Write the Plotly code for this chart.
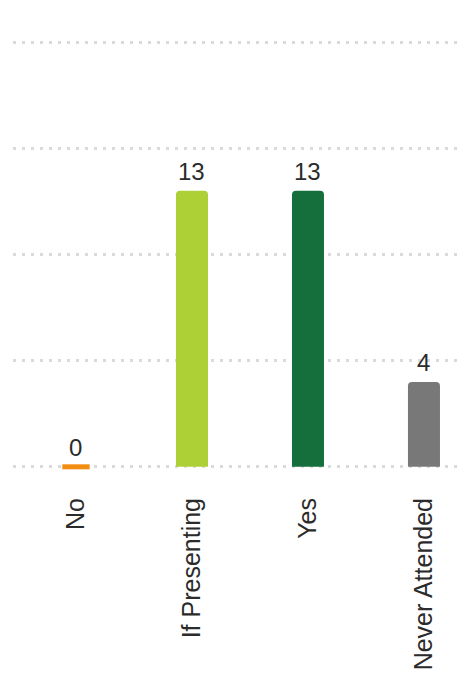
import plotly.graph_objects as go

categories = ["No", "If Presenting", "Yes", "Never Attended"]
values = [0, 13, 13, 4]
colors = ["#f28c12", "#acd036", "#146f3c", "#787878"]
y_ticks = [0, 5, 10, 15, 20]

bar_width = 0.276
FONT = "Liberation Sans, Arial, sans-serif"
TEXT_COLOR = "#2b2b2b"

fig = go.Figure()
fig.add_trace(go.Bar(
    x=list(range(len(categories))),
    y=values,
    marker=dict(color=colors, cornerradius=4, line=dict(width=0)),
    width=bar_width,
    cliponaxis=False,
    hoverinfo="skip",
))

for i, v in enumerate(values):
    # value label above each bar
    fig.add_annotation(x=i, y=v, text=str(v), showarrow=False,
                       yanchor="bottom", yshift=4,
                       font=dict(size=24, color=TEXT_COLOR, family=FONT))
    # zero-value bars drawn as a thin stub on the baseline
    if v == 0:
        fig.add_shape(type="line", xref="x", yref="y",
                      x0=i - bar_width / 2 + 0.02, x1=i + bar_width / 2 - 0.02,
                      y0=v, y1=v, line=dict(color=colors[i], width=5))

fig.update_layout(
    width=467, height=674,
    margin=dict(l=5, r=8, t=32, b=212, autoexpand=False),
    paper_bgcolor="white", plot_bgcolor="white",
    showlegend=False,
    font=dict(family=FONT, color=TEXT_COLOR),
    xaxis=dict(
        tickmode="array", tickvals=list(range(len(categories))), ticktext=categories,
        tickangle=-90, tickfont=dict(size=25, color=TEXT_COLOR),
        range=[-0.543, 3.371], showgrid=False, zeroline=False, showline=False,
        ticks="", ticklabelstandoff=22, automargin=False,
    ),
    yaxis=dict(
        range=[-0.15, 20.1], tickvals=y_ticks, showticklabels=False,
        showgrid=True, gridcolor="#dadada", gridwidth=3, griddash="3px,6px",
        zeroline=False, showline=False, automargin=False,
    ),
)

fig.write_html("out.html")
